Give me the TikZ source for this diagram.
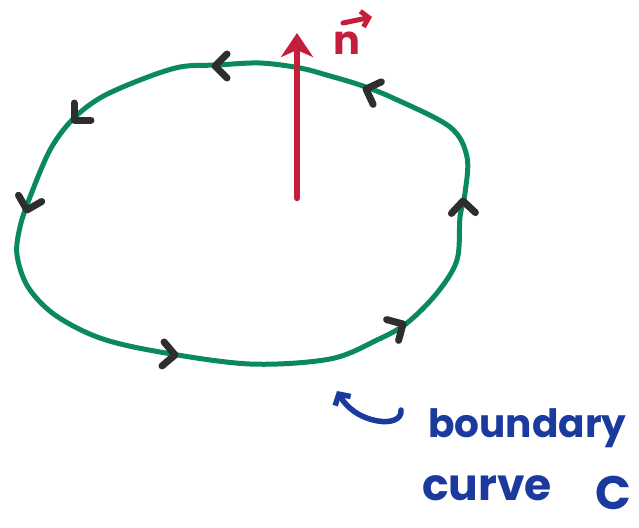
\documentclass[tikz,border=0pt]{standalone}
\usepackage{fontspec}
\setmainfont{Poppins}
\usetikzlibrary{arrows.meta}
\definecolor{cgreen}{HTML}{0A8A5C}
\definecolor{cred}{HTML}{C41E3A}
\definecolor{cblue}{HTML}{1B3A9E}
\definecolor{cdark}{HTML}{2E2E2E}
\tikzset{
  greenline/.style={draw=cgreen, line width=5pt},
  chev/.pic={\draw[cdark, line width=7pt, line cap=round, line join=round] (-12pt,12pt) -- (0,0) -- (-12pt,-12pt);},
  bluetext/.style={text=cblue, font=\bfseries\fontsize{39}{39}\selectfont, inner sep=0pt, anchor=base west},
}
\begin{document}
\begin{tikzpicture}[x=1pt,y=-1pt, line cap=round, line join=round]
\useasboundingbox (0,0) rectangle (639,527);
% boundary curve
\draw[greenline] plot[smooth cycle, tension=0.55] coordinates {
 (260,63) (217,65) (180,67) (140,80) (100,98) (72,120) (50,150) (30,197) (20,227)
 (17,255) (28,287) (55,315) (100,338) (160,352) (250,364) (330,359) (377,340)
 (407,323) (437,293) (457,260) (460,217) (465,193) (467,157) (450,127) (393,98)
 (360,85) (330,76) (300,68)};
% orientation chevrons
\coordinate (c1) at (215,66);
\coordinate (c2) at (366,89);
\coordinate (c3) at (74,120);
\coordinate (c4) at (27,210);
\coordinate (c5) at (175,355);
\coordinate (c6) at (403,324);
\coordinate (c7) at (463,201);
\pic[rotate=180] at (c1) {chev};
\pic[rotate=160] at (c2) {chev};
\pic[rotate=225] at (c3) {chev};
\pic[rotate=255] at (c4) {chev};
\pic[rotate=-5] at (c5) {chev};
\pic[rotate=30] at (c6) {chev};
\pic[rotate=92] at (c7) {chev};
% normal vector
\coordinate (nbase) at (297,198);
\coordinate (ntip) at (297,33);
\draw[cred, line width=6.5pt, -{Stealth[length=24pt,width=32pt,inset=7pt]}] (nbase) -- (ntip);
\node[text=cred, font=\bfseries\fontsize{40}{40}\selectfont, inner sep=0pt, anchor=base west] (nlab) at (333,55) {n};
\coordinate (va) at (343,23);
\coordinate (vb) at (372,17);
\draw[cred, line width=5pt, -{Straight Barb[length=7pt,width=16pt]}] (va) -- (vb);
% label
\node[bluetext] (bnd) at (428,437) {boundary};
\node[bluetext, font=\bfseries\fontsize{44}{44}\selectfont] (crv) at (422,500) {curve};
\node[bluetext, font=\bfseries\fontsize{47}{47}\selectfont] (cC) at (595,509) {C};
\coordinate (bstart) at (401,410);
\coordinate (bend) at (337,391);
\draw[cblue, line width=5.5pt, -{Straight Barb[length=8pt,width=18pt]}] (bstart) .. controls (402,420) and (390,423) .. (378,421) .. controls (360,418) and (347,408) .. (bend);
\end{tikzpicture}
\end{document}
